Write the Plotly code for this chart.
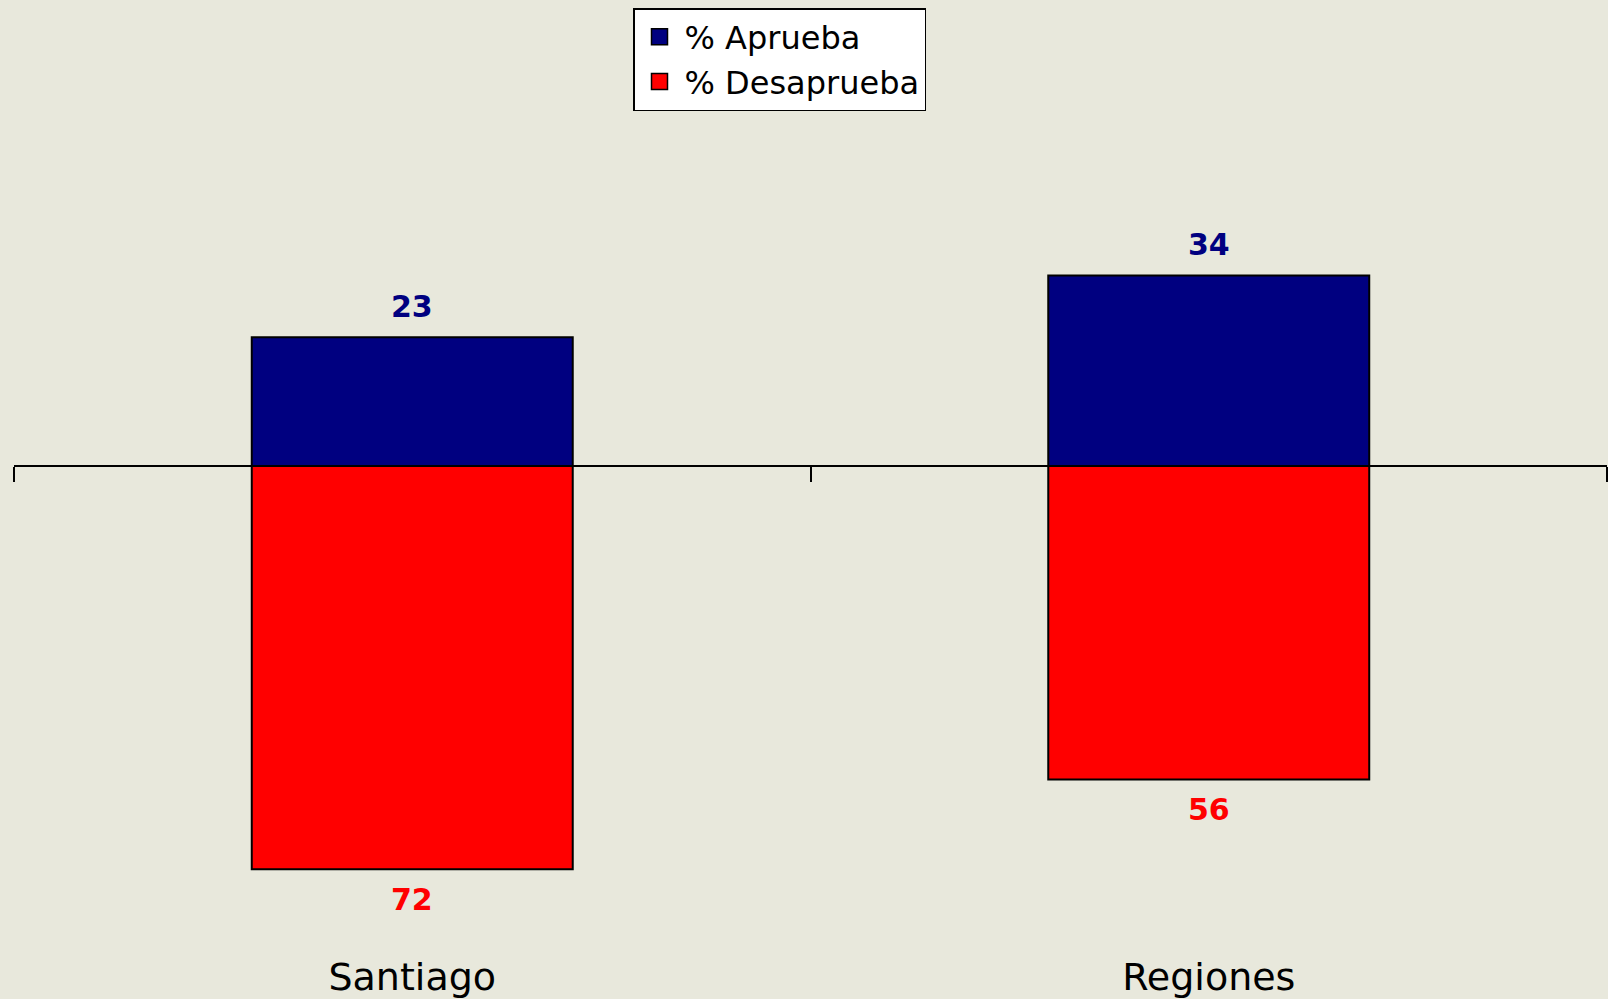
import plotly.graph_objects as go

categories = ["Santiago", "Regiones"]
aprueba = [23, 34]
desaprueba = [72, 56]
series_names = ["% Aprueba", "% Desaprueba"]

NAVY = "#000080"
RED = "#FF0000"
BG = "#E8E8DC"
FONT = "DejaVu Sans"

fig = go.Figure()
fig.add_trace(go.Bar(
    x=categories, y=aprueba, name=series_names[0],
    marker=dict(color=NAVY, line=dict(color="black", width=2)),
    width=0.403, hoverinfo="skip", showlegend=False,
))
fig.add_trace(go.Bar(
    x=categories, y=[-v for v in desaprueba], name=series_names[1],
    marker=dict(color=RED, line=dict(color="black", width=2)),
    width=0.403, hoverinfo="skip", showlegend=False,
))
# legend entries with larger square swatches
for name, col in zip(series_names, [NAVY, RED]):
    fig.add_trace(go.Scatter(
        x=[None], y=[None], mode="markers", name=name,
        marker=dict(symbol="square", size=20, color=col, line=dict(color="black", width=1.5)),
        hoverinfo="skip",
    ))
# invisible trace to carry the bottom label axis
fig.add_trace(go.Scatter(
    x=categories, y=[0, 0], xaxis="x2", mode="markers",
    marker=dict(opacity=0), showlegend=False, hoverinfo="skip",
))

annotations = []
for c, v in zip(categories, aprueba):
    annotations.append(dict(x=c, y=v, text=f"<b>{v}</b>", showarrow=False,
                            yshift=31, font=dict(family=FONT, size=30, color=NAVY)))
for c, v in zip(categories, desaprueba):
    annotations.append(dict(x=c, y=-v, text=f"<b>{v}</b>", showarrow=False,
                            yshift=-30, font=dict(family=FONT, size=30, color=RED)))

H = 999
B = 48
plot_h = H - B
zero_px = 466
scale = 5.6
y_top = zero_px / scale
y_bot = -(plot_h - zero_px) / scale

fig.update_layout(
    width=1608, height=999,
    margin=dict(l=14, r=1, t=0, b=B),
    paper_bgcolor=BG, plot_bgcolor=BG,
    barmode="relative",
    showlegend=True,
    legend=dict(
        x=(633 - 14) / 1593, y=(plot_h - 8) / plot_h, xanchor="left", yanchor="top",
        bgcolor="white", bordercolor="black", borderwidth=1.5,
        font=dict(family=FONT, size=32, color="black"),
        traceorder="normal", itemwidth=40, itemsizing="trace",
        tracegroupgap=0,
    ),
    xaxis=dict(
        type="category", range=[-0.5, 1.5],
        anchor="free", position=(plot_h - zero_px) / plot_h,
        showline=True, linecolor="black", linewidth=2,
        ticks="outside", tickson="boundaries", ticklen=15, tickwidth=2, tickcolor="black",
        showticklabels=False, showgrid=False, zeroline=False, fixedrange=True,
    ),
    xaxis2=dict(
        type="category", range=[-0.5, 1.5], overlaying="x", side="bottom",
        anchor="y", showline=False, ticks="", showgrid=False, zeroline=False,
        tickfont=dict(family=FONT, size=38, color="black"),
    ),
    yaxis=dict(range=[y_bot, y_top], visible=False, showgrid=False, zeroline=False),
    annotations=annotations,
)

fig.write_html("out.html", config={"displayModeBar": False},
               post_script="document.body.style.margin='0';")
